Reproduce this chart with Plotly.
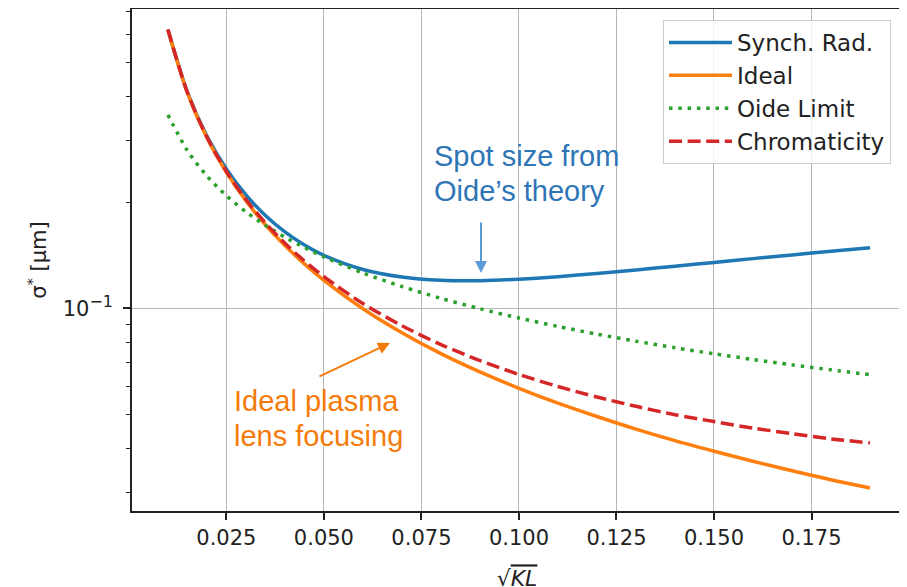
import plotly.graph_objects as go

# ---- data ----
kl = [0.010, 0.015, 0.020, 0.025, 0.030, 0.035, 0.040, 0.045, 0.050,
      0.060, 0.070, 0.080, 0.090, 0.100, 0.110, 0.120, 0.130, 0.140,
      0.150, 0.160, 0.170, 0.180, 0.190]

synch_rad = [0.621, 0.412, 0.309, 0.249, 0.210, 0.1837, 0.1649, 0.1513, 0.1414,
             0.1289, 0.1227, 0.1201, 0.1198, 0.1210, 0.1230, 0.1256, 0.1285, 0.1317,
             0.1350, 0.1384, 0.1418, 0.1452, 0.1487]

ideal = [0.620, 0.410, 0.3057, 0.2435, 0.2022, 0.1728, 0.1508, 0.1337, 0.1201,
         0.0997, 0.0852, 0.0743, 0.0659, 0.0592, 0.0537, 0.0492, 0.0453, 0.0420,
         0.0392, 0.0367, 0.0345, 0.0325, 0.0308]

oide_limit = [0.355, 0.2808, 0.2378, 0.2090, 0.1881, 0.1721, 0.1593, 0.1488, 0.1400,
              0.1260, 0.1153, 0.1067, 0.0997, 0.0938, 0.0888, 0.0844, 0.0806, 0.0772,
              0.0742, 0.0715, 0.0690, 0.0668, 0.0647]

chromaticity = [0.6206, 0.4109, 0.3069, 0.2449, 0.2039, 0.1748, 0.1531, 0.1363, 0.1230,
                0.1031, 0.0892, 0.0788, 0.0710, 0.0648, 0.0599, 0.0559, 0.0526, 0.0498,
                0.0476, 0.0456, 0.0440, 0.0425, 0.0414]

x_ticks = [0.025, 0.050, 0.075, 0.100, 0.125, 0.150, 0.175]
x_tick_labels = ["0.025", "0.050", "0.075", "0.100", "0.125", "0.150", "0.175"]
y_ticks = [0.1]
y_tick_labels = ["10<sup><span style='font-size:16px'>\u22121</span></sup>"]
y_minor = [0.03, 0.04, 0.05, 0.06, 0.07, 0.08, 0.09, 0.2, 0.3, 0.4, 0.5, 0.6, 0.7]

series_names = ["Synch. Rad.", "Ideal", "Oide Limit", "Chromaticity"]

# ---- figure ----
W, H = 907, 587
OFF = 8  # page body margin of the html page
# wanted plot-area edges in screen pixels
L, R, T, B = 132, 902, 9, 511
Lf, Rf, Tf, Bf = L - OFF, R - OFF, T - OFF, B - OFF

def px(x):
    return (x - L) / (R - L)

def py(y):
    return (B - y) / (B - T)

fig = go.Figure()
styles = [
    dict(color="#1f77b4", width=3.5, dash="solid"),
    dict(color="#ff7f0e", width=3.5, dash="solid"),
    dict(color="#2ca02c", width=3.5, dash="3.5px,5.8px"),
    dict(color="#d62728", width=3.5, dash="13px,5.6px"),
]
for name, ys, st in zip(series_names, [synch_rad, ideal, oide_limit, chromaticity], styles):
    fig.add_trace(go.Scatter(x=kl, y=ys, mode="lines", name=name,
                             line=dict(shape="spline", smoothing=0.8, **st)))

font_family = "DejaVu Sans"
fig.update_layout(
    width=W, height=H,
    margin=dict(l=Lf, r=W - Rf, t=Tf, b=H - Bf, autoexpand=False),
    paper_bgcolor="white", plot_bgcolor="white",
    font=dict(family=font_family, color="#222222"),
    showlegend=True,
    legend=dict(x=px(663), y=py(20), xanchor="left", yanchor="top",
                bgcolor="rgba(255,255,255,0.8)", bordercolor="#cccccc", borderwidth=1,
                font=dict(size=23, family=font_family, color="#222222"),
                itemwidth=63, tracegroupgap=0),
    xaxis=dict(range=[0.0008, 0.1982], tickmode="array", tickvals=x_ticks, ticktext=x_tick_labels,
               ticks="outside", ticklen=7, tickwidth=1.5, tickcolor="#222",
               tickfont=dict(size=21, family=font_family),
               showgrid=True, gridcolor="#b5b5b5", gridwidth=1.3,
               showline=True, linecolor="#222", linewidth=1.6, mirror=True,
               zeroline=False, automargin=False,
               title=dict(text="\u221a<span style='text-decoration:overline'><i>KL</i></span>",
                          font=dict(size=22, family=font_family), standoff=22)),
    yaxis=dict(type="log", range=[-1.5768, -0.1487], tickmode="array", tickvals=y_ticks,
               ticktext=y_tick_labels, ticks="outside", ticklen=7, tickwidth=1.5, tickcolor="#222",
               tickfont=dict(size=21, family=font_family), ticklabelstandoff=6,
               showgrid=True, gridcolor="#b5b5b5", gridwidth=1.3,
               showline=True, linecolor="#222", linewidth=1.6, mirror=True,
               zeroline=False, automargin=False,
               minor=dict(tickmode="array", tickvals=y_minor, ticks="outside", ticklen=4,
                          tickwidth=1.2, tickcolor="#222", showgrid=False),
               title=dict(text="\u03c3<sup>*</sup> [\u03bcm]", font=dict(size=21, family=font_family),
                          standoff=10)),
)

ann_font = "Liberation Sans"
blue_txt = "#2E75B6"
orange_txt = "#F47B0A"
for txt, yy in [("Spot size from", 156), ("Oide\u2019s theory", 191)]:
    fig.add_annotation(xref="paper", yref="paper", x=px(432), y=py(yy), xanchor="left",
                       yanchor="middle", showarrow=False, text=txt,
                       font=dict(size=29, family=ann_font, color=blue_txt))
for txt, yy in [("Ideal plasma", 401), ("lens focusing", 436)]:
    fig.add_annotation(xref="paper", yref="paper", x=px(232), y=py(yy), xanchor="left",
                       yanchor="middle", showarrow=False, text=txt,
                       font=dict(size=29, family=ann_font, color=orange_txt))
fig.add_annotation(xref="paper", yref="paper", x=px(481), y=py(273), text="",
                   showarrow=True, arrowhead=2, arrowsize=1.2, arrowwidth=2, arrowcolor="#5B9BD5",
                   ax=0, ay=-52)
fig.add_annotation(xref="paper", yref="paper", x=px(390), y=py(343), text="",
                   showarrow=True, arrowhead=2, arrowsize=1.2, arrowwidth=2, arrowcolor=orange_txt,
                   ax=-72, ay=34)

fig.write_html("out.html")
